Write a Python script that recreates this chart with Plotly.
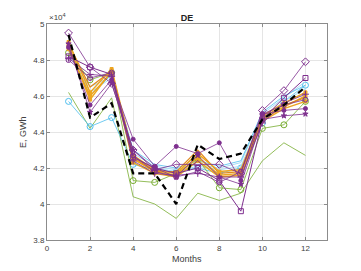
import plotly.graph_objects as go

months = list(range(1, 13))

# values in units of 10^4 GWh
black_dashed   = [4.94, 4.48, 4.56, 4.17, 4.17, 4.00, 4.33, 4.25, 4.28, 4.47, 4.55, 4.65]
green_plain    = [4.62, 4.42, 4.59, 4.04, 4.00, 3.92, 4.06, 4.02, 4.06, 4.24, 4.34, 4.27]
green_circle   = [4.84, 4.69, 4.73, 4.13, 4.12, 4.17, 4.25, 4.09, 4.08, 4.42, 4.44, 4.57]
blue_circle    = [4.57, 4.43, 4.48, 4.22, 4.19, 4.18, 4.20, 4.17, 4.20, 4.45, 4.57, 4.66]
blue_a         = [4.85, 4.62, 4.70, 4.28, 4.21, 4.19, 4.22, 4.20, 4.23, 4.50, 4.59, 4.68]
blue_b         = [4.83, 4.65, 4.71, 4.26, 4.20, 4.18, 4.21, 4.19, 4.21, 4.48, 4.57, 4.64]
blue_c         = [4.86, 4.60, 4.72, 4.30, 4.22, 4.20, 4.24, 4.21, 4.24, 4.51, 4.60, 4.66]
orange_a       = [4.88, 4.58, 4.74, 4.25, 4.18, 4.16, 4.26, 4.16, 4.17, 4.47, 4.54, 4.60]
orange_b       = [4.90, 4.62, 4.75, 4.27, 4.19, 4.17, 4.28, 4.18, 4.19, 4.49, 4.56, 4.62]
orange_c       = [4.86, 4.60, 4.73, 4.23, 4.17, 4.15, 4.24, 4.15, 4.16, 4.46, 4.53, 4.57]
orange_d       = [4.89, 4.65, 4.74, 4.26, 4.18, 4.18, 4.30, 4.17, 4.18, 4.48, 4.55, 4.59]
purple_diamond = [4.95, 4.76, 4.67, 4.30, 4.19, 4.22, 4.22, 4.22, 4.17, 4.52, 4.63, 4.79]
purple_square  = [4.82, 4.76, 4.72, 4.26, 4.20, 4.17, 4.20, 4.13, 3.96, 4.47, 4.59, 4.70]
purple_star    = [4.89, 4.51, 4.67, 4.30, 4.20, 4.15, 4.27, 4.15, 4.11, 4.47, 4.49, 4.50]
purple_dot     = [4.87, 4.55, 4.69, 4.36, 4.21, 4.32, 4.28, 4.34, 4.13, 4.50, 4.52, 4.53]
purple_ocircle = [4.80, 4.70, 4.73, 4.27, 4.18, 4.15, 4.18, 4.12, 4.18, 4.50, 4.55, 4.58]
purple_cross   = [4.81, 4.72, 4.71, 4.24, 4.17, 4.16, 4.17, 4.15, 4.15, 4.45, 4.56, 4.61]

x_ticks = [0, 2, 4, 6, 8, 10, 12]
y_ticks = [3.8, 4.0, 4.2, 4.4, 4.6, 4.8, 5.0]
y_tick_labels = ["3.8", "4", "4.2", "4.4", "4.6", "4.8", "5"]

PURPLE = "#7E2F8E"
ORANGE = "#EDA520"
DORANGE = "#E0881E"
LBLUE = "#4DBEEE"
LLBLUE = "#A6DCF6"
GREEN = "#77AC30"
FONT = "Liberation Sans, Arial"

fig = go.Figure()

def add(y, color, width=1, symbol=None, size=5, dash="solid"):
    mode = "lines+markers" if symbol else "lines"
    kw = dict(x=months, y=y, mode=mode, showlegend=False, hoverinfo="skip",
              line=dict(color=color, width=width, dash=dash))
    if symbol:
        kw["marker"] = dict(symbol=symbol, size=size, color=color,
                            line=dict(color=color, width=1))
    fig.add_trace(go.Scatter(**kw))

add(green_plain, GREEN, 0.8)
add(blue_circle, LBLUE, 0.8, "circle-open", 6)
add(blue_a, LLBLUE, 1)
add(blue_b, LLBLUE, 1)
add(blue_c, LBLUE, 0.8)
add(green_circle, GREEN, 0.8, "circle-open", 6)
add(orange_c, ORANGE, 1.5, "square", 3)
add(orange_a, ORANGE, 1.5, "square", 3)
add(orange_d, DORANGE, 1.2)
add(orange_b, ORANGE, 1.5, "square", 3)
add(purple_ocircle, PURPLE, 0.8, "circle-open", 5)
add(purple_cross, PURPLE, 0.8, "cross-thin-open", 5)
add(purple_square, PURPLE, 1.0, "square-open", 5)
add(purple_star, PURPLE, 0.8, "star", 4)
add(purple_dot, PURPLE, 0.8, "circle", 4)
add(purple_diamond, PURPLE, 0.8, "diamond-open", 6)
add(black_dashed, "black", 2.2, dash="6px,4px")

axis_common = dict(
    showgrid=True, gridcolor="#e5e5e5", gridwidth=1,
    showline=True, linecolor="#8c8c8c", linewidth=1, mirror="ticks",
    ticks="inside", ticklen=3, tickcolor="#8c8c8c",
    tickfont=dict(family=FONT, size=8, color="#404040"),
    zeroline=False,
)

# page body has an 8px default margin, so the figure is sized to fill the rest
fig.update_layout(
    width=353, height=263,
    margin=dict(l=39, r=34, t=13, b=31),
    paper_bgcolor="white", plot_bgcolor="white",
    title=dict(text="<b>DE</b>", x=0.5, xref="paper", xanchor="center",
               y=1, yref="paper", yanchor="bottom", pad=dict(b=3),
               font=dict(family=FONT, size=9, color="#222")),
    xaxis=dict(range=[0, 13], tickvals=x_ticks, **axis_common),
    yaxis=dict(range=[3.8, 5.0], tickvals=y_ticks, ticktext=y_tick_labels, **axis_common),
    annotations=[
        dict(text="×10<sup>4</sup>", x=0, xref="paper", xanchor="left",
             y=1, yref="paper", yanchor="bottom", showarrow=False,
             font=dict(family=FONT, size=8, color="#404040")),
        dict(text="Months", x=0.5, xref="paper", xanchor="center",
             y=0, yref="paper", yanchor="middle", yshift=-19, showarrow=False,
             font=dict(family=FONT, size=9, color="#404040")),
        dict(text="E, GWh", x=0, xref="paper", xanchor="center", xshift=-24,
             y=0.5, yref="paper", yanchor="middle", textangle=-90, showarrow=False,
             font=dict(family=FONT, size=9, color="#404040")),
    ],
)

fig.write_html("out.html")
